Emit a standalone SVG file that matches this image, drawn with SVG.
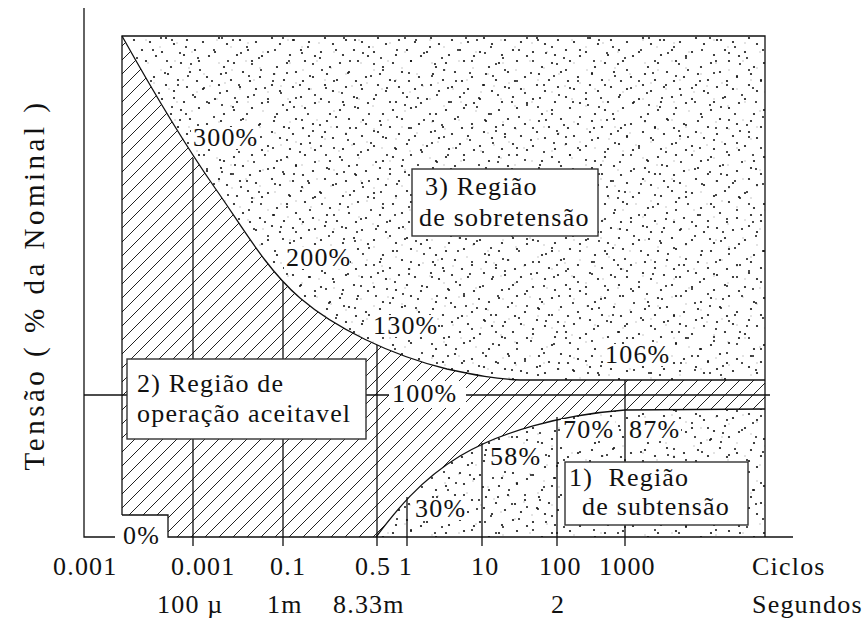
<svg xmlns="http://www.w3.org/2000/svg" width="866" height="621" viewBox="0 0 866 621" font-family="Liberation Serif, Times New Roman, Times, serif">
<defs>
<style>
text{font-size:26px;fill:#111;letter-spacing:1.2px}
.ln{stroke:#111;stroke-width:1.3;fill:none}
.box{fill:#fff;stroke:#333;stroke-width:1.4}
.bg{fill:#fff}
</style>
<pattern id="hatch" patternUnits="userSpaceOnUse" width="14" height="14">
<path d="M0,14 L14,0 M-2,2 L2,-2 M12,16 L16,12" stroke="#222" stroke-width="1" fill="none"/>
</pattern>
<pattern id="dA" patternUnits="userSpaceOnUse" width="53" height="47">
<g fill="#111">
<circle cx="3" cy="5" r="1.1"/><circle cx="12" cy="20" r="1.1"/><circle cx="25" cy="8" r="1.1"/><circle cx="40" cy="14" r="1.1"/><circle cx="48" cy="30" r="1.1"/><circle cx="7" cy="38" r="1.1"/><circle cx="19" cy="33" r="1.1"/><circle cx="31" cy="25" r="1.1"/><circle cx="44" cy="42" r="1.1"/><circle cx="36" cy="3" r="1.1"/><circle cx="15" cy="44" r="1.1"/><circle cx="28" cy="40" r="1.1"/><circle cx="50" cy="9" r="1.1"/><circle cx="9" cy="27" r="1.1"/><circle cx="22" cy="16" r="1.1"/><circle cx="38" cy="34" r="1.1"/>
</g>
</pattern>
<pattern id="dB" patternUnits="userSpaceOnUse" width="61" height="67">
<g fill="#111">
<circle cx="5" cy="9" r="1"/><circle cx="17" cy="3" r="1"/><circle cx="29" cy="14" r="1"/><circle cx="43" cy="6" r="1"/><circle cx="56" cy="18" r="1"/><circle cx="10" cy="28" r="1"/><circle cx="24" cy="35" r="1"/><circle cx="37" cy="26" r="1"/><circle cx="50" cy="40" r="1"/><circle cx="3" cy="47" r="1"/><circle cx="15" cy="58" r="1"/><circle cx="31" cy="50" r="1"/><circle cx="45" cy="61" r="1"/><circle cx="58" cy="53" r="1"/><circle cx="21" cy="21" r="1"/><circle cx="52" cy="31" r="1"/><circle cx="8" cy="64" r="1"/><circle cx="39" cy="38" r="1"/>
</g>
</pattern>
<pattern id="dC" patternUnits="userSpaceOnUse" width="71" height="59">
<g fill="#b0b0b0">
<circle cx="6" cy="4" r="0.7"/><circle cx="19" cy="11" r="0.7"/><circle cx="33" cy="2" r="0.7"/><circle cx="47" cy="9" r="0.7"/><circle cx="62" cy="15" r="0.7"/><circle cx="12" cy="24" r="0.7"/><circle cx="27" cy="30" r="0.7"/><circle cx="41" cy="21" r="0.7"/><circle cx="55" cy="33" r="0.7"/><circle cx="68" cy="27" r="0.7"/><circle cx="4" cy="40" r="0.7"/><circle cx="18" cy="47" r="0.7"/><circle cx="35" cy="43" r="0.7"/><circle cx="50" cy="52" r="0.7"/>
</g>
</pattern>
<path id="upperReg" d="M122,36 L765,36 L765,380 L520,380 C495,379 475,375 447,369 C390,355 335,328 300,298 C265,268 240,223 215,188 C185,145 150,86 122,36 Z"/>
<path id="lowerReg" d="M376,537 C395,512 420,480 460,456 C500,432 560,415 625,410 L765,409 L765,537 Z"/>
</defs>

<g id="region-sobretensao">
<use href="#upperReg" fill="#fff"/>
<use href="#upperReg" fill="url(#dC)"/>
<use href="#upperReg" fill="url(#dA)"/>
<use href="#upperReg" fill="url(#dB)"/>
</g>
<g id="region-subtensao">
<use href="#lowerReg" fill="#fff"/>
<use href="#lowerReg" fill="url(#dC)"/>
<use href="#lowerReg" fill="url(#dA)"/>
<use href="#lowerReg" fill="url(#dB)"/>
</g>
<g id="region-aceitavel">
<path d="M122,36 C150,86 185,145 215,188 C240,223 265,268 300,298 C335,328 390,355 447,369 C475,375 495,379 520,380 L765,380 L765,409 L625,410 C560,415 500,432 460,456 C420,480 395,512 376,537 L168,537 L168,515 L122,515 Z" fill="url(#hatch)"/>
</g>

<g id="connectors">
<path class="ln" d="M84,8 L84,537 L115,537"/>
<path class="ln" d="M84,395 L770,395"/>
<path class="ln" d="M122,515 L122,36 L765,36 L765,537"/>
<path class="ln" d="M122,515 L168,515 L168,537 L793,537"/>
<path class="ln" d="M122,36 C150,86 185,145 215,188 C240,223 265,268 300,298 C335,328 390,355 447,369 C475,375 495,379 520,380 L765,380"/>
<path class="ln" d="M376,537 C395,512 420,480 460,456 C500,432 560,415 625,410 L765,409"/>
<path class="ln" d="M193,158 L193,546 M283,282 L283,546 M377,345 L377,546 M407,497 L407,546 M482,443 L482,546 M557,417 L557,546 M625,380 L625,546"/>
</g>

<g id="label-300"><rect class="bg" x="191" y="127" width="66" height="22"/><text x="193" y="146">300%</text></g>
<g id="label-200"><rect class="bg" x="284" y="247" width="66" height="22"/><text x="286" y="266">200%</text></g>
<g id="label-130"><rect class="bg" x="371" y="315" width="66" height="22"/><text x="373" y="334">130%</text></g>
<g id="label-106"><rect class="bg" x="603" y="344" width="66" height="22"/><text x="605" y="363">106%</text></g>
<g id="label-100"><rect class="bg" x="389" y="381" width="77" height="27"/><text x="392" y="402">100%</text></g>
<g id="label-70"><rect class="bg" x="561" y="419" width="54" height="22"/><text x="563" y="438">70%</text></g>
<g id="label-87"><rect class="bg" x="627" y="419" width="54" height="22"/><text x="629" y="438">87%</text></g>
<g id="label-58"><rect class="bg" x="488" y="446" width="54" height="22"/><text x="490" y="465">58%</text></g>
<g id="label-30"><rect class="bg" x="413" y="498" width="54" height="22"/><text x="415" y="517">30%</text></g>
<g id="label-0"><text x="123" y="544">0%</text></g>

<g id="box-sobretensao">
<rect class="box" x="412" y="169" width="186" height="67"/>
<text x="425" y="195">3) Região</text>
<text x="419" y="226">de sobretensão</text>
</g>
<g id="box-aceitavel">
<rect class="box" x="127" y="359" width="239" height="80"/>
<text x="137" y="392">2) Região de</text>
<text x="137" y="422">operação aceitavel</text>
</g>
<g id="box-subtensao">
<rect class="box" x="565" y="462" width="183" height="63"/>
<text x="569" y="486" xml:space="preserve">1)  Região</text>
<text x="582" y="515">de subtensão</text>
</g>

<g id="axis-x-ciclos">
<text x="53" y="575">0.001</text>
<text x="171" y="575">0.001</text>
<text x="270" y="575">0.1</text>
<text x="355" y="575">0.5 1</text>
<text x="471" y="575">10</text>
<text x="539" y="575">100</text>
<text x="599" y="575">1000</text>
<text x="752" y="575">Ciclos</text>
</g>
<g id="axis-x-segundos">
<text x="157" y="613">100 µ</text>
<text x="267" y="613">1m</text>
<text x="333" y="613">8.33m</text>
<text x="551" y="613">2</text>
<text x="752" y="613">Segundos</text>
</g>
<g id="axis-y">
<text transform="translate(44,285) rotate(-90)" text-anchor="middle" style="font-size:29px;letter-spacing:3.5px">Tensão ( % da Nominal )</text>
</g>
</svg>
